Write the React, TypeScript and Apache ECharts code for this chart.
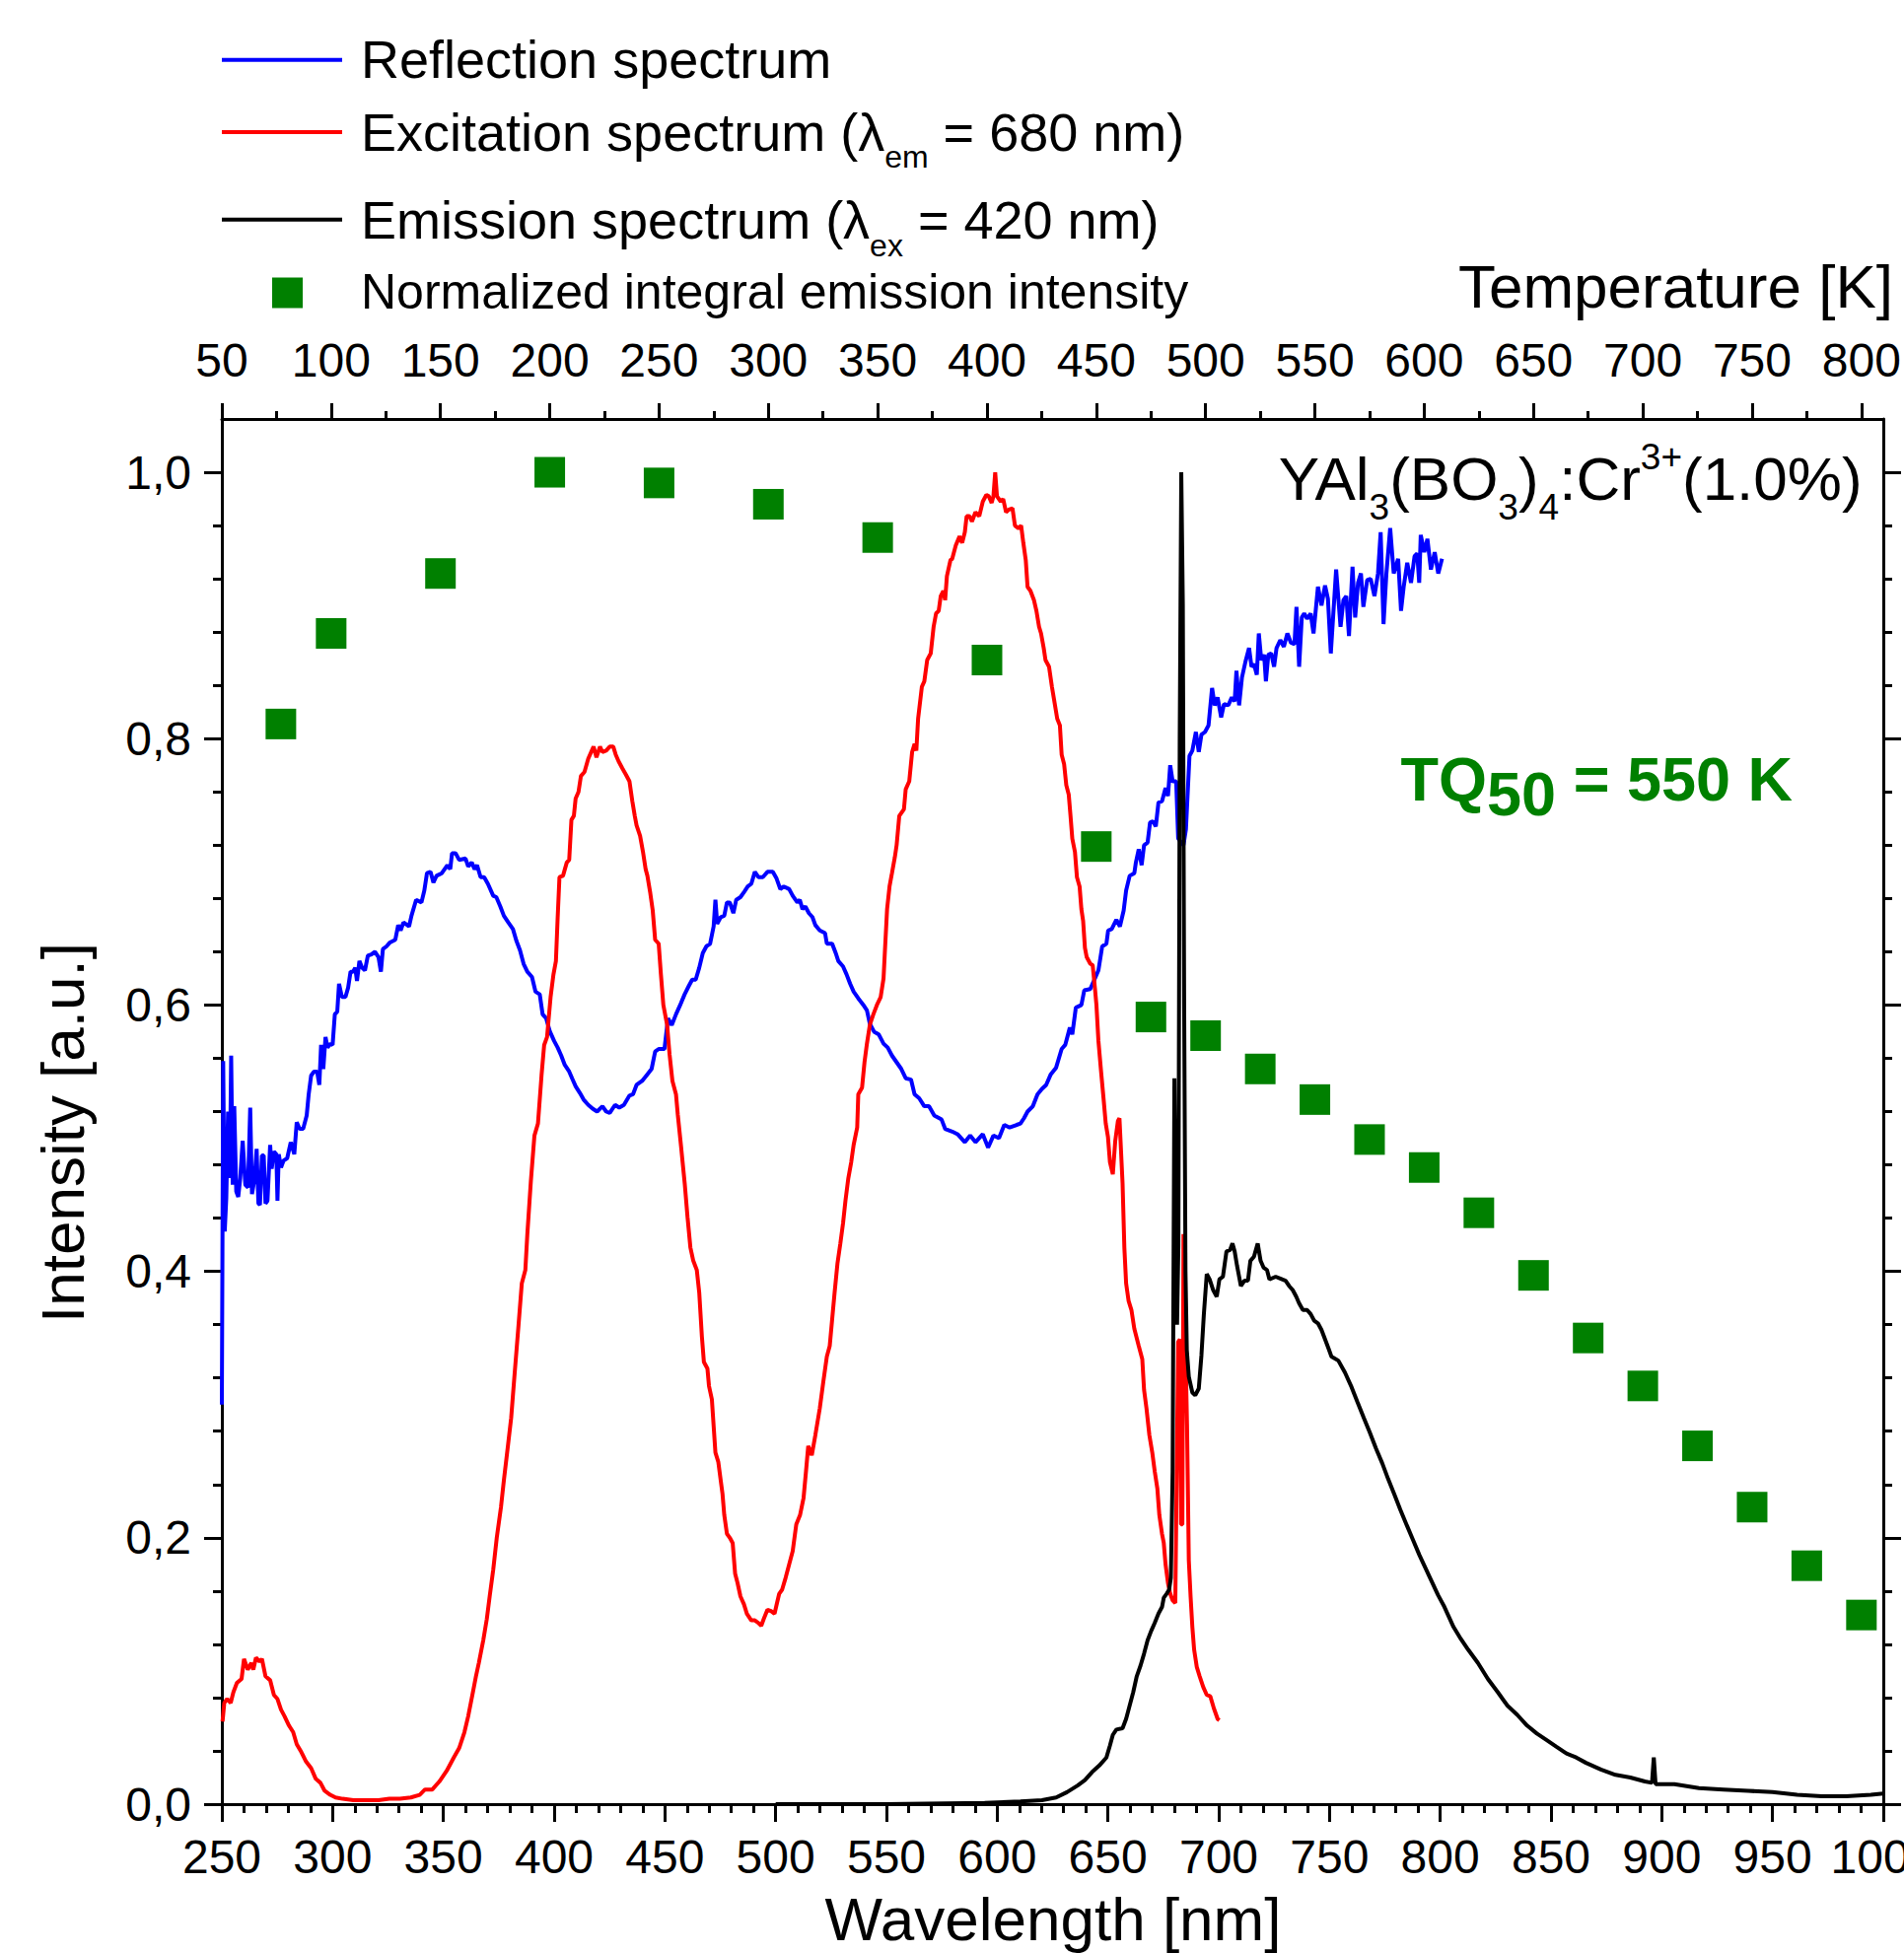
import React, { useEffect, useRef } from 'react';
import * as echarts from 'echarts';

const FONT = '"Liberation Sans", Arial, Helvetica, sans-serif';
const BLUE = '#0000ff';
const RED = '#ff0000';
const BLACK = '#000000';
const GREEN = '#008000';
const LINE_W = 4;

// Wavelength axis (nm) and intensity ticks
const wavelengthRange = [250, 1000];
const temperatureRange = [50, 810];
const temperatureTicks = [50, 100, 150, 200, 250, 300, 350, 400, 450, 500, 550, 600, 650, 700, 750, 800];
const intensityTicks = [0, 0.2, 0.4, 0.6, 0.8, 1.0];

// Reflection spectrum [nm, intensity]
const reflection: [number, number][] = [
  [250.0,0.300],[250.6,0.558],[251.3,0.430],[252.0,0.455],[252.8,0.520],[253.6,0.470],[254.2,0.562],[254.9,0.465],[255.6,0.524],[256.5,0.460],[257.4,0.456],[258.3,0.470],[259.4,0.498],[260.6,0.465],[261.8,0.463],[262.8,0.523],[263.6,0.458],[264.8,0.470],[265.7,0.492],[266.5,0.451],[267.2,0.450],[268.1,0.487],[268.9,0.487],[269.7,0.451],[270.6,0.453],[271.8,0.495],[272.5,0.477],[273.5,0.490],[274.6,0.488],[275.1,0.453],[275.7,0.488],[276.7,0.478],[277.8,0.483],[279.5,0.485],[281.1,0.497],[282.7,0.488],[283.8,0.512],[285.1,0.507],[286.7,0.507],[288.3,0.517],[289.2,0.533],[290.3,0.547],[291.6,0.550],[293.0,0.550],[294.0,0.540],[294.8,0.570],[295.8,0.552],[296.8,0.576],[297.7,0.568],[299.0,0.571],[300.0,0.570],[301.0,0.593],[302.1,0.595],[302.9,0.616],[304.2,0.606],[305.8,0.606],[307.0,0.613],[308.1,0.625],[309.2,0.625],[310.2,0.628],[311.0,0.618],[312.1,0.633],[313.3,0.628],[314.6,0.626],[315.9,0.637],[317.5,0.638],[319.1,0.640],[320.7,0.636],[321.8,0.625],[322.7,0.642],[324.3,0.644],[325.9,0.647],[328.3,0.649],[329.6,0.660],[330.7,0.656],[332.0,0.662],[334.5,0.659],[335.6,0.667],[337.7,0.679],[340.1,0.677],[341.4,0.686],[342.6,0.699],[344.2,0.700],[345.5,0.692],[346.9,0.697],[349.3,0.699],[351.8,0.705],[353.1,0.702],[353.9,0.714],[355.5,0.714],[357.1,0.709],[360.0,0.710],[361.2,0.704],[362.8,0.707],[364.1,0.702],[365.2,0.705],[366.8,0.696],[368.4,0.696],[370.1,0.691],[372.5,0.682],[373.9,0.681],[375.7,0.674],[377.3,0.667],[379.3,0.662],[381.4,0.657],[383.0,0.648],[384.6,0.641],[386.2,0.631],[387.9,0.625],[390.0,0.621],[391.6,0.610],[393.5,0.608],[394.8,0.593],[396.4,0.590],[398.1,0.580],[400.0,0.573],[401.6,0.568],[403.2,0.562],[404.8,0.555],[406.8,0.550],[408.1,0.545],[409.7,0.539],[411.6,0.534],[413.3,0.529],[415.4,0.525],[417.5,0.522],[419.4,0.520],[421.8,0.524],[423.5,0.520],[425.1,0.519],[427.5,0.525],[429.4,0.523],[431.5,0.525],[434.0,0.532],[435.6,0.533],[437.2,0.540],[439.7,0.543],[442.1,0.548],[444.0,0.552],[445.6,0.565],[447.2,0.567],[449.8,0.567],[451.4,0.590],[453.1,0.585],[455.0,0.593],[456.9,0.600],[458.9,0.608],[460.7,0.614],[462.3,0.619],[463.9,0.619],[465.5,0.628],[467.1,0.639],[468.7,0.644],[470.4,0.646],[472.0,0.659],[472.8,0.679],[473.6,0.661],[475.2,0.666],[476.8,0.667],[478.0,0.677],[479.3,0.677],[480.9,0.669],[482.2,0.679],[484.1,0.681],[485.8,0.685],[487.4,0.689],[489.0,0.691],[490.6,0.700],[492.2,0.696],[494.2,0.696],[496.3,0.700],[498.7,0.700],[500.4,0.695],[502.1,0.687],[503.7,0.689],[506.1,0.687],[507.7,0.682],[509.8,0.677],[510.9,0.679],[512.1,0.672],[513.4,0.674],[515.0,0.669],[516.6,0.666],[517.9,0.660],[519.9,0.656],[522.3,0.654],[523.1,0.646],[525.5,0.646],[527.1,0.639],[528.3,0.633],[530.4,0.629],[532.0,0.623],[533.6,0.616],[535.2,0.610],[537.3,0.605],[539.6,0.600],[541.2,0.596],[542.5,0.586],[544.4,0.580],[546.5,0.578],[548.7,0.571],[550.6,0.568],[552.5,0.562],[554.6,0.557],[556.7,0.552],[558.7,0.545],[561.1,0.544],[562.7,0.533],[564.8,0.530],[567.1,0.524],[569.2,0.524],[571.6,0.517],[574.9,0.514],[576.5,0.507],[579.7,0.505],[582.1,0.503],[585.4,0.497],[587.8,0.502],[590.2,0.497],[593.5,0.503],[595.9,0.493],[598.3,0.502],[600.8,0.500],[603.2,0.510],[605.6,0.508],[608.8,0.510],[610.5,0.511],[612.1,0.515],[613.7,0.520],[616.1,0.524],[618.2,0.533],[620.2,0.537],[622.1,0.540],[624.2,0.548],[626.6,0.553],[629.1,0.567],[630.7,0.570],[632.8,0.583],[633.9,0.578],[635.5,0.598],[638.0,0.600],[639.3,0.611],[642.0,0.612],[643.6,0.618],[645.7,0.626],[647.4,0.644],[649.3,0.646],[650.1,0.656],[651.7,0.657],[653.8,0.664],[655.4,0.659],[657.1,0.671],[658.2,0.686],[659.8,0.697],[661.9,0.699],[662.6,0.707],[663.9,0.717],[665.2,0.705],[666.3,0.720],[667.9,0.722],[669.0,0.737],[670.3,0.738],[671.6,0.734],[672.8,0.752],[674.4,0.753],[676.0,0.763],[677.1,0.757],[678.1,0.780],[679.2,0.768],[680.8,0.768],[681.7,0.725],[684.1,0.720],[685.2,0.732],[686.8,0.787],[688.1,0.791],[689.7,0.805],[691.0,0.790],[692.2,0.803],[693.8,0.805],[695.4,0.810],[697.0,0.838],[698.2,0.825],[699.5,0.831],[701.1,0.816],[702.4,0.826],[704.3,0.825],[705.9,0.831],[707.2,0.828],[708.0,0.851],[709.2,0.825],[710.5,0.846],[712.1,0.858],[713.7,0.868],[714.8,0.854],[715.9,0.856],[717.2,0.848],[718.1,0.879],[719.2,0.859],[720.5,0.863],[721.3,0.843],[722.4,0.863],[723.7,0.864],[725.0,0.854],[726.1,0.868],[727.8,0.874],[729.4,0.869],[731.0,0.879],[732.6,0.872],[734.2,0.871],[735.1,0.899],[736.3,0.854],[737.5,0.891],[738.6,0.894],[739.9,0.890],[741.5,0.894],[742.8,0.879],[744.8,0.914],[746.4,0.900],[748.0,0.915],[749.3,0.905],[750.6,0.864],[753.0,0.927],[755.0,0.884],[756.3,0.904],[757.6,0.907],[758.8,0.877],[760.4,0.929],[761.6,0.891],[762.9,0.917],[764.2,0.924],[765.3,0.899],[767.0,0.919],[768.6,0.920],[770.3,0.907],[771.9,0.924],[773.1,0.955],[774.4,0.886],[775.7,0.924],[777.4,0.958],[779.0,0.924],[781.0,0.935],[782.3,0.896],[783.5,0.914],[785.1,0.932],[786.8,0.917],[788.4,0.937],[789.6,0.939],[790.5,0.917],[791.2,0.953],[792.8,0.940],[794.2,0.950],[795.8,0.927],[797.5,0.940],[799.1,0.924],[800.8,0.935]
];

// Excitation spectrum (λem = 680 nm) [nm, intensity]
const excitation: [number, number][] = [
  [250.3,0.062],[251.1,0.076],[252.4,0.079],[254.0,0.076],[255.2,0.084],[256.8,0.091],[258.9,0.094],[260.0,0.109],[261.7,0.101],[263.3,0.106],[264.2,0.101],[265.4,0.110],[267.0,0.107],[268.1,0.109],[269.7,0.096],[271.8,0.093],[273.5,0.082],[275.1,0.079],[276.7,0.071],[278.3,0.066],[280.3,0.059],[282.2,0.054],[283.8,0.045],[285.9,0.039],[288.0,0.032],[290.3,0.027],[292.4,0.019],[294.5,0.016],[296.4,0.010],[298.9,0.007],[301.3,0.005],[304.5,0.004],[309.4,0.003],[315.9,0.003],[320.7,0.003],[325.6,0.004],[330.4,0.004],[335.3,0.005],[339.3,0.007],[341.7,0.011],[345.0,0.011],[348.2,0.017],[351.5,0.025],[354.7,0.035],[357.1,0.042],[359.5,0.054],[361.2,0.066],[363.1,0.082],[364.7,0.096],[366.0,0.106],[368.0,0.123],[369.6,0.139],[370.9,0.156],[372.5,0.176],[374.1,0.200],[376.0,0.223],[377.3,0.243],[379.0,0.267],[380.6,0.290],[382.2,0.324],[383.8,0.357],[385.4,0.391],[387.0,0.401],[387.9,0.428],[389.5,0.468],[391.1,0.502],[392.7,0.511],[394.3,0.547],[395.5,0.570],[396.8,0.576],[398.4,0.606],[399.7,0.623],[400.8,0.633],[401.6,0.666],[402.4,0.696],[404.0,0.697],[405.7,0.707],[406.8,0.709],[407.8,0.739],[408.9,0.742],[409.7,0.755],[411.0,0.760],[412.1,0.772],[413.7,0.775],[415.4,0.785],[417.0,0.791],[417.8,0.794],[419.1,0.786],[420.7,0.794],[421.8,0.790],[423.5,0.791],[425.1,0.794],[426.7,0.794],[427.8,0.788],[429.1,0.783],[430.7,0.778],[432.4,0.773],[434.0,0.768],[435.3,0.753],[436.4,0.742],[437.2,0.735],[438.8,0.727],[440.1,0.715],[441.3,0.702],[442.1,0.697],[443.4,0.684],[444.5,0.671],[445.6,0.649],[447.2,0.646],[448.2,0.623],[449.3,0.600],[451.0,0.585],[452.1,0.563],[453.4,0.543],[455.0,0.533],[455.8,0.518],[457.4,0.492],[459.0,0.465],[460.2,0.441],[461.5,0.418],[462.8,0.408],[464.4,0.401],[465.5,0.384],[466.7,0.351],[467.6,0.332],[469.2,0.327],[469.9,0.314],[471.2,0.304],[472.0,0.284],[472.8,0.264],[474.1,0.257],[475.2,0.243],[476.0,0.233],[476.8,0.217],[478.0,0.203],[479.3,0.200],[480.6,0.196],[481.7,0.173],[482.8,0.166],[484.1,0.156],[485.7,0.150],[487.0,0.143],[489.0,0.138],[490.6,0.138],[492.2,0.136],[493.5,0.134],[494.6,0.139],[496.3,0.146],[497.9,0.145],[499.5,0.143],[500.6,0.151],[501.6,0.158],[502.9,0.161],[504.5,0.170],[506.1,0.180],[507.7,0.190],[509.3,0.210],[511.0,0.217],[512.6,0.230],[513.7,0.250],[514.7,0.269],[516.3,0.262],[517.9,0.277],[519.9,0.297],[521.5,0.317],[523.1,0.336],[524.4,0.344],[525.5,0.364],[526.6,0.384],[527.9,0.406],[529.2,0.421],[530.4,0.436],[531.5,0.453],[532.8,0.470],[534.1,0.482],[535.2,0.495],[536.8,0.508],[537.3,0.533],[539.0,0.538],[540.1,0.557],[541.2,0.571],[542.5,0.585],[544.1,0.593],[545.7,0.600],[547.4,0.606],[548.7,0.620],[549.3,0.640],[550.3,0.672],[551.4,0.689],[552.5,0.699],[553.8,0.711],[554.6,0.720],[555.8,0.742],[557.9,0.747],[558.7,0.762],[560.3,0.768],[561.6,0.790],[562.7,0.796],[563.5,0.791],[564.3,0.815],[566.0,0.839],[567.1,0.843],[568.4,0.859],[570.0,0.864],[571.3,0.884],[572.4,0.894],[573.6,0.896],[574.5,0.907],[575.7,0.911],[576.5,0.904],[577.3,0.922],[578.9,0.934],[579.7,0.935],[581.3,0.945],[583.0,0.952],[584.2,0.947],[585.4,0.955],[586.2,0.967],[587.5,0.967],[588.6,0.963],[590.2,0.970],[591.9,0.967],[593.5,0.978],[595.1,0.983],[596.2,0.982],[597.5,0.977],[598.3,0.982],[599.1,1.000],[599.9,0.982],[601.6,0.978],[602.7,0.980],[604.0,0.970],[605.3,0.972],[606.9,0.973],[608.0,0.960],[609.6,0.958],[610.8,0.960],[611.8,0.947],[612.9,0.934],[613.7,0.914],[615.0,0.911],[616.6,0.904],[617.7,0.896],[618.9,0.884],[619.8,0.879],[621.0,0.868],[621.8,0.859],[623.4,0.854],[624.7,0.839],[625.8,0.828],[627.1,0.815],[628.3,0.810],[629.1,0.788],[630.2,0.781],[631.2,0.765],[632.3,0.758],[633.1,0.742],[633.9,0.725],[635.1,0.715],[636.0,0.696],[637.2,0.689],[638.0,0.672],[638.8,0.663],[639.6,0.643],[640.4,0.636],[642.0,0.631],[643.1,0.630],[644.1,0.613],[644.8,0.600],[645.7,0.573],[646.9,0.550],[648.0,0.530],[649.0,0.511],[650.0,0.501],[650.9,0.482],[652.2,0.473],[653.3,0.498],[654.5,0.513],[655.2,0.515],[656.6,0.466],[657.4,0.418],[658.2,0.391],[659.3,0.378],[660.6,0.371],[661.9,0.357],[663.9,0.344],[665.5,0.334],[666.3,0.311],[667.4,0.297],[668.7,0.277],[670.0,0.264],[671.1,0.250],[672.3,0.237],[673.2,0.217],[674.4,0.203],[675.2,0.196],[676.0,0.180],[677.1,0.166],[678.1,0.158],[679.2,0.153],[680.4,0.151],[681.7,0.347],[682.5,0.349],[683.0,0.210],[683.6,0.210],[684.1,0.428],[684.9,0.351],[685.7,0.284],[686.5,0.183],[687.3,0.156],[688.1,0.133],[688.9,0.116],[690.1,0.103],[691.4,0.096],[693.0,0.088],[694.6,0.082],[696.2,0.081],[697.8,0.072],[699.5,0.064],[700.3,0.063]
];

// Emission spectrum (λex = 420 nm) [nm, intensity]
const emission: [number, number][] = [
  [500.0,0.000],[550.0,0.000],[594.3,0.001],[610.5,0.002],[620.2,0.003],[626.6,0.005],[631.5,0.009],[636.3,0.014],[639.6,0.018],[642.8,0.024],[646.1,0.029],[649.3,0.035],[650.9,0.044],[652.2,0.052],[653.8,0.056],[656.6,0.057],[658.2,0.064],[659.8,0.074],[661.4,0.084],[663.0,0.096],[664.7,0.104],[666.3,0.113],[667.9,0.123],[669.5,0.130],[671.1,0.136],[672.8,0.143],[674.4,0.148],[675.2,0.155],[676.5,0.158],[677.6,0.161],[678.4,0.170],[679.2,0.250],[679.6,0.400],[680.0,0.545],[680.5,0.450],[681.2,0.360],[681.8,0.420],[682.4,0.800],[683.1,1.000],[683.8,0.900],[684.4,0.600],[685.0,0.400],[685.6,0.341],[686.5,0.321],[688.1,0.309],[689.4,0.307],[691.0,0.312],[692.2,0.337],[693.3,0.368],[694.6,0.398],[695.9,0.394],[697.5,0.386],[699.1,0.381],[700.3,0.394],[701.9,0.396],[703.5,0.415],[705.1,0.416],[706.2,0.421],[707.2,0.415],[708.3,0.404],[710.0,0.389],[711.6,0.393],[713.2,0.393],[714.3,0.408],[715.9,0.411],[717.6,0.421],[718.9,0.408],[720.2,0.403],[721.8,0.401],[722.9,0.394],[725.7,0.396],[728.6,0.394],[730.2,0.393],[731.8,0.389],[733.4,0.386],[735.0,0.381],[736.3,0.376],[738.0,0.371],[739.9,0.371],[741.5,0.368],[743.1,0.363],[744.8,0.361],[746.4,0.356],[748.0,0.349],[749.6,0.342],[750.9,0.336],[754.0,0.333],[757.0,0.324],[760.0,0.313],[762.6,0.302],[765.5,0.290],[768.2,0.279],[771.0,0.267],[773.8,0.256],[776.5,0.244],[779.4,0.232],[782.0,0.221],[785.0,0.209],[787.8,0.198],[790.6,0.187],[793.4,0.177],[796.2,0.167],[799.0,0.157],[801.9,0.148],[806.0,0.133],[809.3,0.124],[812.6,0.116],[817.0,0.106],[821.5,0.094],[826.0,0.084],[830.3,0.074],[834.8,0.067],[839.2,0.059],[843.6,0.053],[848.1,0.048],[852.5,0.043],[857.0,0.038],[861.4,0.035],[865.8,0.031],[872.5,0.026],[879.1,0.022],[885.8,0.020],[892.4,0.017],[895.6,0.016],[896.4,0.035],[897.2,0.015],[905.7,0.015],[916.8,0.012],[927.9,0.011],[939.0,0.010],[950.0,0.009],[961.1,0.007],[972.2,0.006],[983.3,0.006],[994.4,0.007],[1000.0,0.008]
];

// Normalized integral emission intensity vs temperature (K)
const temperatures = [77, 100, 150, 200, 250, 300, 350, 400, 450, 475, 500, 525, 550, 575, 600, 625, 650, 675, 700, 725, 750, 775, 800];
const integralIntensity = [0.811, 0.879, 0.924, 1.000, 0.992, 0.976, 0.951, 0.859, 0.719, 0.591, 0.577, 0.552, 0.529, 0.499, 0.478, 0.444, 0.397, 0.350, 0.314, 0.269, 0.223, 0.179, 0.142];

const axisLineStyle = { color: '#000', width: 3 };
const tickLineStyle = { color: '#000', width: 3 };
const labelStyle = { fontSize: 48, fontFamily: FONT, color: '#000' };
const commaFmt = (v: number) => v.toFixed(1).replace('.', ',');

function buildOption() {
  const scatterData = temperatures.map((t, i) => [t, integralIntensity[i]]);
  return {
    animation: false,
    backgroundColor: '#ffffff',
    textStyle: { fontFamily: FONT },
    grid: { left: 225, right: 21, top: 425, bottom: 151, containLabel: false, outerBoundsMode: 'none' },
    xAxis: [
      {
        type: 'value', position: 'bottom', min: wavelengthRange[0], max: wavelengthRange[1], interval: 50,
        axisLine: { show: true, onZero: false, lineStyle: axisLineStyle },
        axisTick: { show: true, inside: false, length: 18, lineStyle: tickLineStyle },
        minorTick: { show: true, splitNumber: 5, length: 9, lineStyle: tickLineStyle },
        axisLabel: { ...labelStyle, margin: 29, formatter: (v: number) => String(v) },
        splitLine: { show: false }, minorSplitLine: { show: false },
      },
      {
        type: 'value', position: 'top', min: temperatureRange[0], max: temperatureRange[1], interval: 50,
        axisLine: { show: true, onZero: false, lineStyle: axisLineStyle },
        axisTick: { show: true, inside: false, length: 16, lineStyle: tickLineStyle, customValues: temperatureTicks },
        minorTick: { show: true, splitNumber: 2, length: 8, lineStyle: tickLineStyle },
        axisLabel: { ...labelStyle, margin: 36, customValues: temperatureTicks, formatter: (v: number) => (v > 805 ? '' : String(v)) },
        splitLine: { show: false }, minorSplitLine: { show: false },
      },
    ],
    yAxis: [
      {
        type: 'value', position: 'left', min: 0, max: 1.04, interval: 0.2,
        axisLine: { show: true, onZero: false, lineStyle: axisLineStyle },
        axisTick: { show: true, inside: false, length: 18, lineStyle: tickLineStyle, customValues: intensityTicks },
        minorTick: { show: true, splitNumber: 5, length: 9, lineStyle: tickLineStyle },
        axisLabel: { ...labelStyle, margin: 31, customValues: intensityTicks, formatter: commaFmt },
        splitLine: { show: false }, minorSplitLine: { show: false },
      },
      {
        type: 'value', position: 'right', min: 0, max: 1.04, interval: 0.2,
        axisLine: { show: true, onZero: false, lineStyle: axisLineStyle },
        axisTick: { show: true, inside: false, length: 18, lineStyle: tickLineStyle, customValues: intensityTicks },
        minorTick: { show: true, splitNumber: 5, length: 9, lineStyle: tickLineStyle },
        axisLabel: { show: false },
        splitLine: { show: false }, minorSplitLine: { show: false },
      },
    ],
    series: [
      { type: 'line', name: 'Reflection spectrum', xAxisIndex: 0, yAxisIndex: 0, data: reflection, symbol: 'none', lineStyle: { color: BLUE, width: LINE_W }, itemStyle: { color: BLUE }, z: 2 },
      { type: 'line', name: 'Excitation spectrum (λem = 680 nm)', xAxisIndex: 0, yAxisIndex: 0, data: excitation, symbol: 'none', lineStyle: { color: RED, width: LINE_W }, itemStyle: { color: RED }, z: 3 },
      { type: 'line', name: 'Emission spectrum (λex = 420 nm)', xAxisIndex: 0, yAxisIndex: 0, data: emission, symbol: 'none', lineStyle: { color: BLACK, width: LINE_W }, itemStyle: { color: BLACK }, z: 4 },
      { type: 'scatter', name: 'Normalized integral emission intensity', xAxisIndex: 1, yAxisIndex: 0, data: scatterData, symbol: 'rect', symbolSize: 31, itemStyle: { color: GREEN, opacity: 1 }, z: 5 },
    ],
    graphic: [
      // legend
      { type: 'line', shape: { x1: 225, y1: 60.7, x2: 347, y2: 60.7 }, style: { stroke: BLUE, lineWidth: LINE_W } },
      { type: 'text', x: 366, y: 60.3, style: { text: 'Reflection spectrum', fontSize: 54, fontFamily: FONT, fill: '#000', align: 'left', verticalAlign: 'middle' } },
      { type: 'line', shape: { x1: 225, y1: 134, x2: 347, y2: 134 }, style: { stroke: RED, lineWidth: LINE_W } },
      {
        type: 'text', x: 366, y: 107,
        style: {
          text: '{a|Excitation spectrum (λ}{s|em}{a| = 680 nm)}', fontSize: 54, fontFamily: FONT, fill: '#000', align: 'left', verticalAlign: 'top',
          rich: {
            a: { fontSize: 54, fontFamily: FONT, fill: '#000', verticalAlign: 'top' },
            s: { fontSize: 32, fontFamily: FONT, fill: '#000', verticalAlign: 'top', padding: [36, 0, 0, 0] },
          },
        },
      },
      { type: 'line', shape: { x1: 225, y1: 222.7, x2: 347, y2: 222.7 }, style: { stroke: BLACK, lineWidth: LINE_W } },
      {
        type: 'text', x: 366, y: 196,
        style: {
          text: '{a|Emission spectrum (λ}{s|ex}{a| = 420 nm)}', fontSize: 54, fontFamily: FONT, fill: '#000', align: 'left', verticalAlign: 'top',
          rich: {
            a: { fontSize: 54, fontFamily: FONT, fill: '#000', verticalAlign: 'top' },
            s: { fontSize: 32, fontFamily: FONT, fill: '#000', verticalAlign: 'top', padding: [37, 0, 0, 0] },
          },
        },
      },
      { type: 'rect', shape: { x: 276, y: 281.5, width: 31, height: 31 }, style: { fill: GREEN } },
      { type: 'text', x: 366, y: 296, style: { text: 'Normalized integral emission intensity', fontSize: 50, fontFamily: FONT, fill: '#000', align: 'left', verticalAlign: 'middle' } },
      // axis titles
      { type: 'text', x: 1920, y: 290.5, style: { text: 'Temperature [K]', fontSize: 62, fontFamily: FONT, fill: '#000', align: 'right', verticalAlign: 'middle' } },
      { type: 'text', x: 1068, y: 1946.5, style: { text: 'Wavelength [nm]', fontSize: 62, fontFamily: FONT, fill: '#000', align: 'center', verticalAlign: 'middle' } },
      { type: 'text', x: 63.5, y: 1149, rotation: Math.PI / 2, style: { text: 'Intensity [a.u.]', fontSize: 62, fontFamily: FONT, fill: '#000', align: 'center', verticalAlign: 'middle' } },
      // sample label
      {
        type: 'text', x: 1888.6, y: 445.4,
        style: {
          text: '{m|YAl}{b|3}{m|(BO}{b|3}{m|)}{b|4}{m|:Cr}{p|3+}{m|(1.0%)}', fontSize: 62, fontFamily: FONT, fill: '#000', align: 'right', verticalAlign: 'top',
          rich: {
            m: { fontSize: 62, fontFamily: FONT, fill: '#000', verticalAlign: 'top', padding: [9, 0, 0, 0] },
            b: { fontSize: 37, fontFamily: FONT, fill: '#000', verticalAlign: 'top', padding: [51, 0, 0, 0] },
            p: { fontSize: 37, fontFamily: FONT, fill: '#000', verticalAlign: 'top' },
          },
        },
      },
      {
        type: 'text', x: 1420.6, y: 758.1,
        style: {
          text: '{t|TQ}{s|50}{t| = 550 K}', fontSize: 63, fontFamily: FONT, fontWeight: 'bold', fill: GREEN, align: 'left', verticalAlign: 'top',
          rich: {
            t: { fontSize: 63, fontFamily: FONT, fontWeight: 'bold', fill: GREEN, verticalAlign: 'top' },
            s: { fontSize: 63, fontFamily: FONT, fontWeight: 'bold', fill: GREEN, verticalAlign: 'top', padding: [15, 0, 0, 0] },
          },
        },
      },
    ],
  };
}

export default function App() {
  const ref = useRef<HTMLDivElement>(null);
  useEffect(() => {
    if (!ref.current) return;
    const chart = echarts.init(ref.current, null, { renderer: 'svg', width: 1931, height: 1981 });
    chart.setOption(buildOption() as any);
    return () => chart.dispose();
  }, []);
  return (
    <div
      ref={ref}
      style={{ position: 'absolute', left: 0, top: 0, width: 1931, height: 1981, background: '#fff' }}
    />
  );
}
